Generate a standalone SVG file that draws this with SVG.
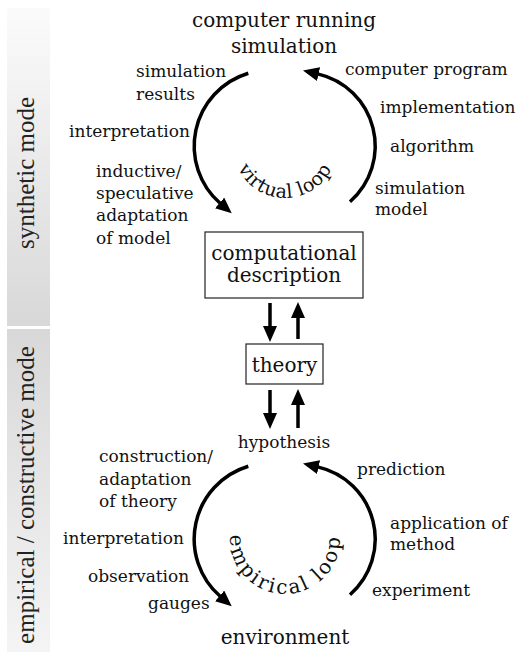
<svg xmlns="http://www.w3.org/2000/svg" width="519" height="652" viewBox="0 0 519 652">
<style>
.lbl{font-family:"DejaVu Serif","Liberation Serif",serif;font-size:17px;fill:#111}
.node{font-family:"DejaVu Serif","Liberation Serif",serif;font-size:20px;fill:#111;text-anchor:middle}
.mode{font-family:"Liberation Serif","DejaVu Serif",serif;font-size:25px;fill:#222;text-anchor:middle}
.loop{font-family:"DejaVu Serif","Liberation Serif",serif;fill:#111}
.box{fill:#fff;stroke:#222;stroke-width:1.2}
.conn{fill:none;stroke:#000;stroke-width:3.5}
</style>
<defs>
<linearGradient id="g1" x1="0" y1="0" x2="0" y2="1"><stop offset="0" stop-color="#fbfbfb"/><stop offset="1" stop-color="#d8d8d8"/></linearGradient>
<linearGradient id="g2" x1="0" y1="0" x2="0" y2="1"><stop offset="0" stop-color="#d8d8d8"/><stop offset="1" stop-color="#f4f4f4"/></linearGradient>
<marker id="ah" markerUnits="userSpaceOnUse" markerWidth="16" markerHeight="14" viewBox="0 0 16 14" refX="1" refY="7" orient="auto"><path d="M0,0 L16,7 L0,14 z" fill="#000"/></marker>
<path id="vpath" d="M237.9,168 A52,52 0 0 0 332.1,168"/>
<path id="epath" d="M230.03,537.1 A55,55 0 1 0 339.97,537.1"/>
</defs>

<g id="synthetic-mode">
<rect x="7" y="8" width="43" height="318" fill="url(#g1)"/>
<text class="mode" transform="translate(34,173) rotate(-90)">synthetic mode</text>
</g>
<g id="empirical-mode">
<rect x="7" y="329" width="43" height="323" fill="url(#g2)"/>
<text class="mode" transform="translate(34,495) rotate(-90)">empirical / constructive mode</text>
</g>

<g id="connectors">
<path class="conn" marker-end="url(#ah)" d="M248.3,73.3 A76,76 0 0 0 220.4,203.5"/>
<path class="conn" marker-end="url(#ah)" d="M350,201.7 A74,74 0 0 0 317.6,73.9"/>
<path class="conn" marker-end="url(#ah)" d="M248.3,466.3 A76,76 0 0 0 220.4,596.5"/>
<path class="conn" marker-end="url(#ah)" d="M350,594.7 A74,74 0 0 0 317.6,466.9"/>
<path class="conn" marker-end="url(#ah)" d="M270,303 L270,327"/>
<path class="conn" marker-end="url(#ah)" d="M298,339 L298,317"/>
<path class="conn" marker-end="url(#ah)" d="M270,390 L270,414"/>
<path class="conn" marker-end="url(#ah)" d="M298,428 L298,404"/>
</g>

<g id="loop-labels">
<text class="loop" font-size="19" letter-spacing="0.5"><textPath href="#vpath" startOffset="50%" text-anchor="middle">virtual loop</textPath></text>
<text class="loop" font-size="20" letter-spacing="2.5"><textPath href="#epath" startOffset="50%" text-anchor="middle">empirical loop</textPath></text>
</g>

<g id="edge-labels">
<text class="lbl" x="136" y="77">simulation</text>
<text class="lbl" x="136" y="100">results</text>
<text class="lbl" x="69" y="137">interpretation</text>
<text class="lbl" x="96" y="177">inductive/</text>
<text class="lbl" x="96" y="199">speculative</text>
<text class="lbl" x="96" y="221">adaptation</text>
<text class="lbl" x="96" y="244">of model</text>
<text class="lbl" x="345" y="75">computer program</text>
<text class="lbl" x="380" y="113">implementation</text>
<text class="lbl" x="390" y="152">algorithm</text>
<text class="lbl" x="375" y="194">simulation</text>
<text class="lbl" x="375" y="215">model</text>
<text class="lbl" x="99" y="462">construction/</text>
<text class="lbl" x="99" y="485">adaptation</text>
<text class="lbl" x="99" y="507">of theory</text>
<text class="lbl" x="63" y="544">interpretation</text>
<text class="lbl" x="88" y="582">observation</text>
<text class="lbl" x="148" y="609">gauges</text>
<text class="lbl" x="357" y="475">prediction</text>
<text class="lbl" x="390" y="529">application of</text>
<text class="lbl" x="390" y="550">method</text>
<text class="lbl" x="372" y="596">experiment</text>
</g>

<g id="computer">
<text class="node" x="284" y="27">computer running</text>
<text class="node" x="284" y="53">simulation</text>
</g>
<g id="computational-description">
<rect class="box" x="205" y="232" width="158" height="66"/>
<text class="node" x="284" y="260">computational</text>
<text class="node" x="284" y="282">description</text>
</g>
<g id="theory">
<rect class="box" x="246" y="344" width="77" height="40"/>
<text class="node" x="284.5" y="372">theory</text>
</g>
<g id="hypothesis">
<text class="lbl" x="284" y="448" text-anchor="middle">hypothesis</text>
</g>
<g id="environment">
<text class="node" x="285" y="644">environment</text>
</g>
</svg>
